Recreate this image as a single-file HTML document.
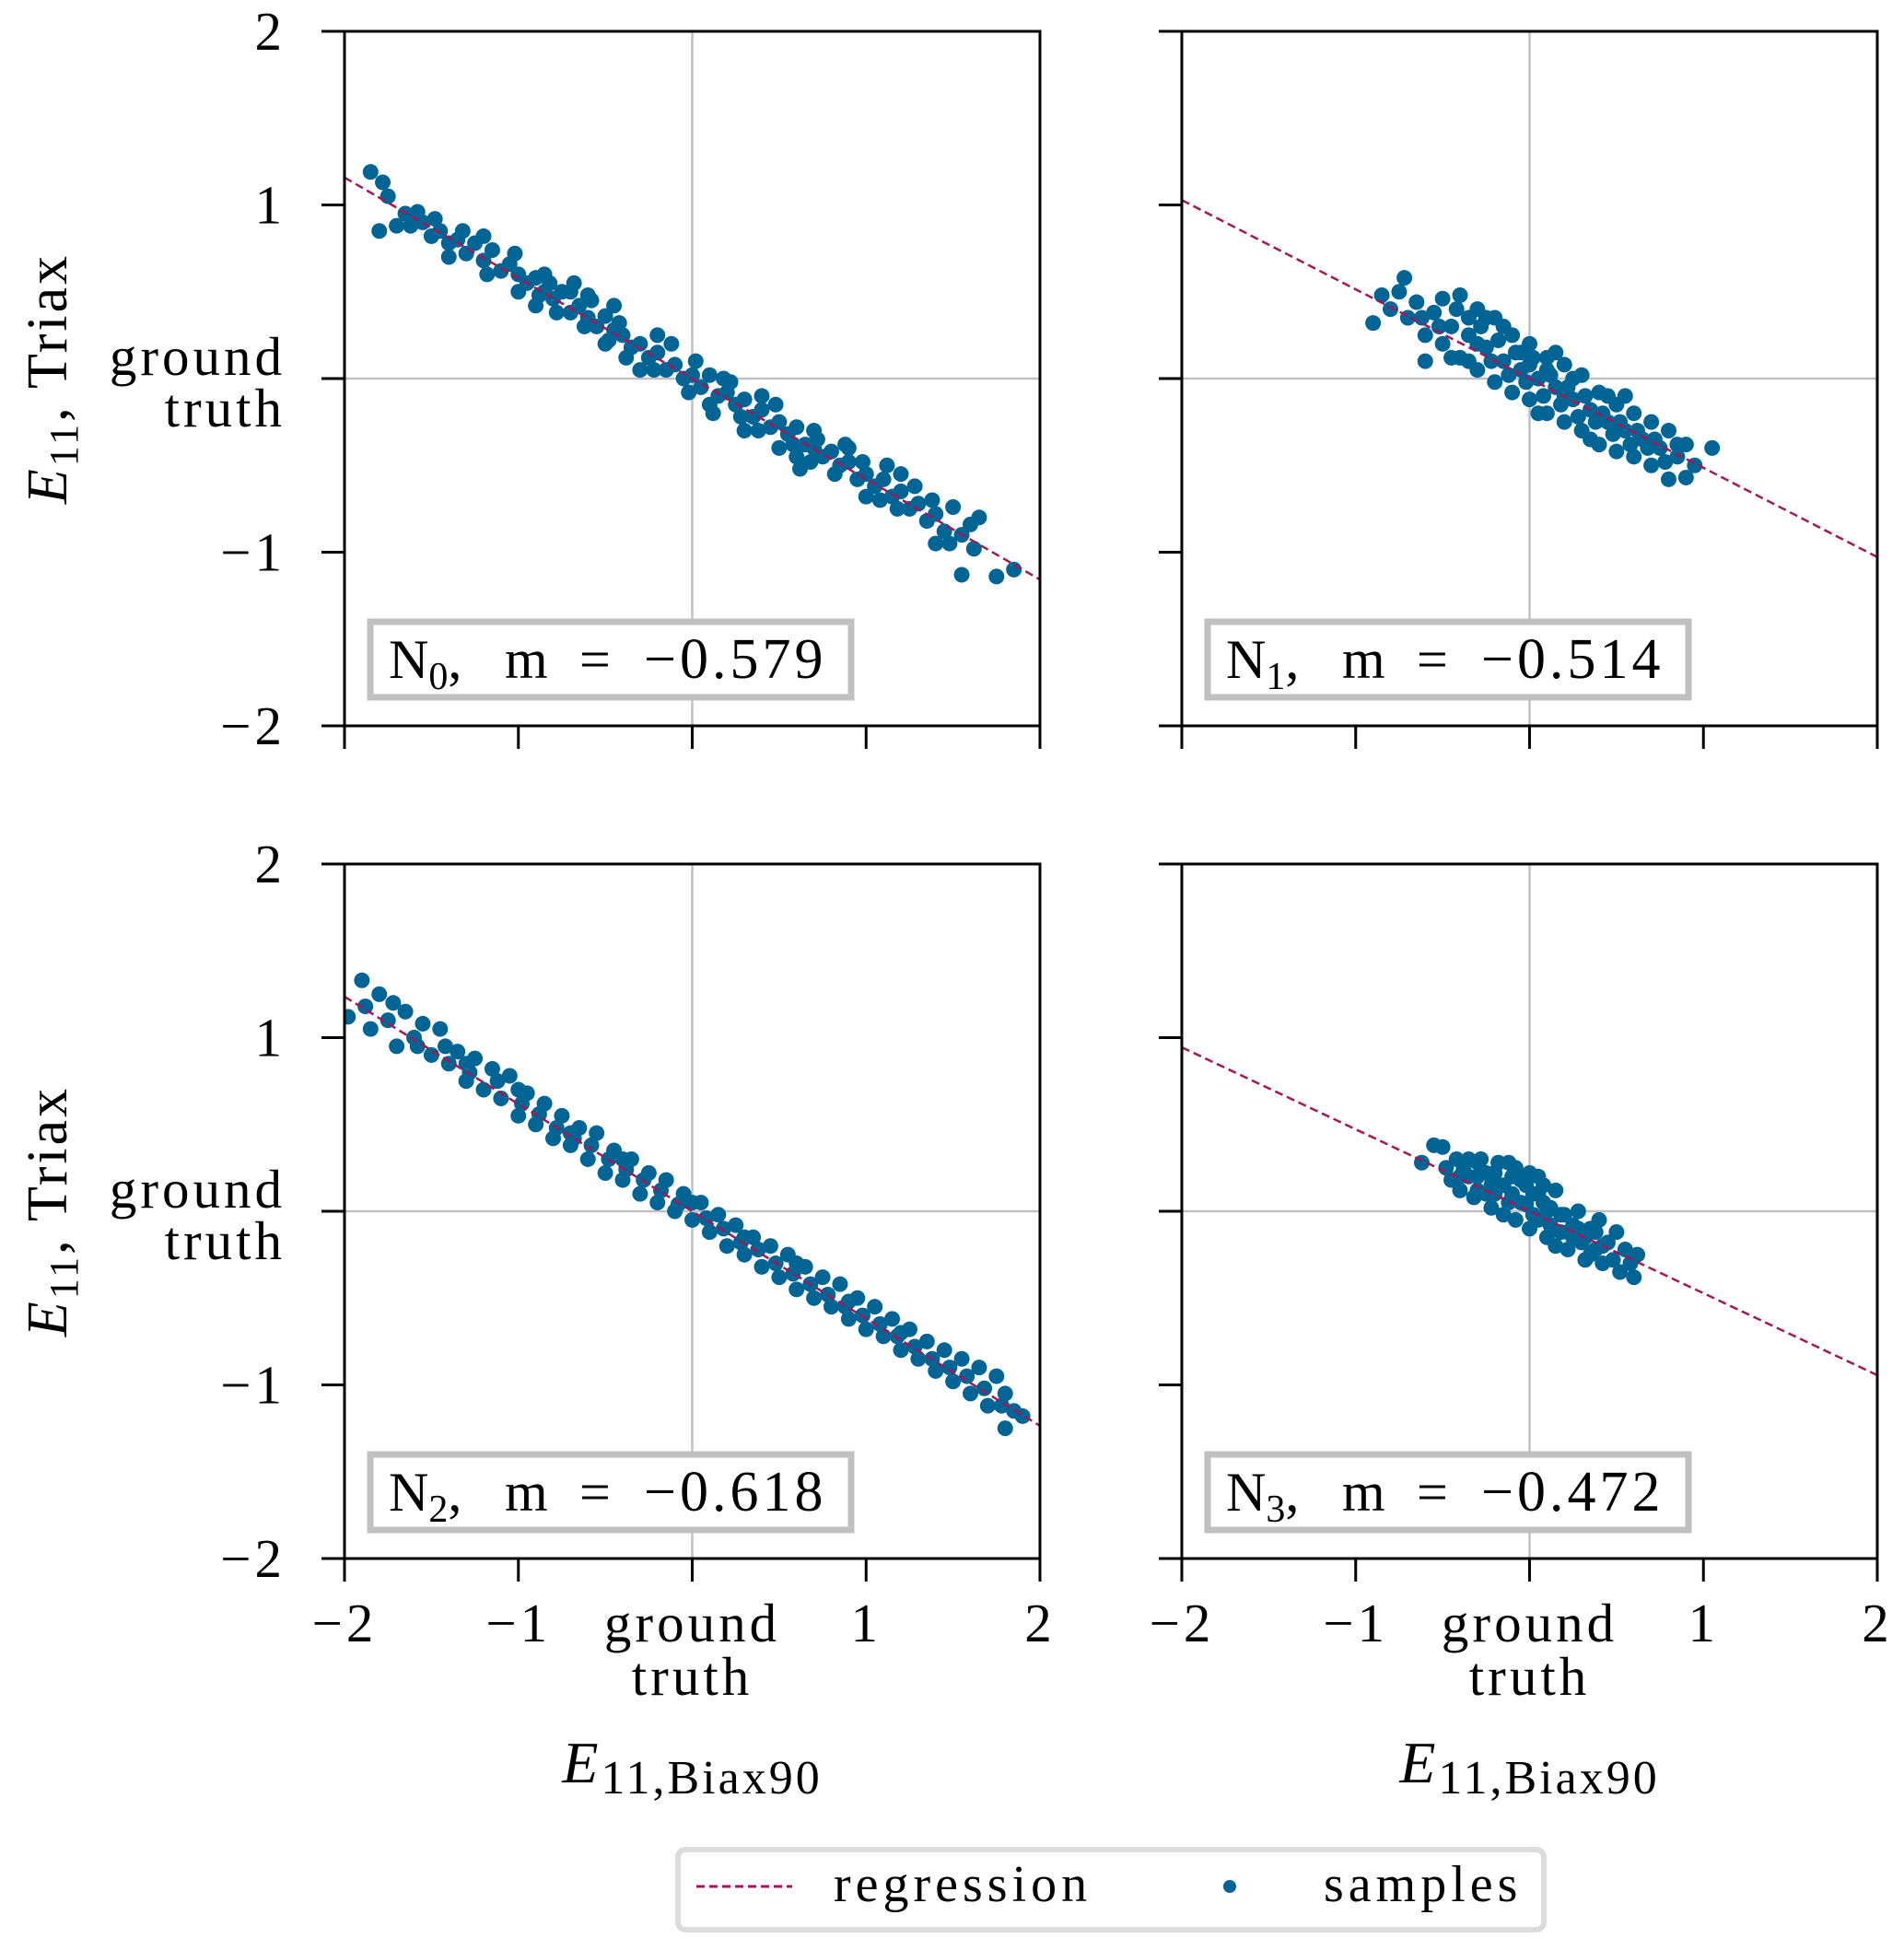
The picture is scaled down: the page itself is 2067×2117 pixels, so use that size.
<!DOCTYPE html>
<html><head><meta charset="utf-8"><style>
html,body{margin:0;padding:0;background:#fff}
svg{display:block}
text{font-family:"Liberation Serif","DejaVu Serif",serif;fill:#000}
</style></head><body>
<svg id="fig" width="2067" height="2117" viewBox="0 0 2067 2117" xmlns="http://www.w3.org/2000/svg"></svg>
<script>
const slopes = [-0.579, -0.514, -0.618, -0.472];
const panelLabels = ["0","1","2","3"];
const tickVals = [-2,-1,0,1,2];
const tickLabels = ["\u22122","\u22121","ground|truth","1","2"];
const p0 = [[-1.85,1.19],[-1.78,1.13],[-1.75,1.05],[-1.8,0.85],[-1.7,0.88],[-1.65,0.95],[-1.58,0.96],[-1.55,0.9],[-1.5,0.82],[-1.45,0.85],[-1.4,0.78],[-1.35,0.8],[-1.3,0.72],[-1.25,0.78],[-1.2,0.68],[-1.15,0.74],[-1.1,0.62],[-1.05,0.66],[-1.0,0.6],[-0.95,0.55],[-0.9,0.58],[-0.88,0.48],[-0.85,0.5],[-0.8,0.46],[-0.75,0.5],[-0.7,0.38],[-0.65,0.42],[-0.6,0.35],[-0.55,0.3],[-0.5,0.36],[-0.48,0.22],[-0.45,0.28],[-0.4,0.25],[-0.35,0.18],[-0.3,0.2],[-0.25,0.12],[-0.2,0.15],[-0.15,0.05],[-0.1,0.08],[-0.05,0.0],[0,0.02],[0.05,-0.05],[0.1,0.02],[0.15,-0.1],[0.2,-0.08],[0.25,-0.15],[0.3,-0.12],[0.35,-0.22],[0.4,-0.18],[0.45,-0.28],[0.5,-0.25],[0.55,-0.32],[0.6,-0.28],[0.65,-0.38],[0.7,-0.4],[0.75,-0.45],[0.8,-0.42],[0.85,-0.5],[0.9,-0.48],[0.95,-0.58],[1.0,-0.55],[1.05,-0.62],[1.1,-0.58],[1.15,-0.68],[1.2,-0.65],[1.25,-0.75],[1.3,-0.72],[1.35,-0.82],[1.4,-0.78],[1.45,-0.88],[1.5,-0.74],[1.55,-0.9],[1.6,-0.84],[1.65,-0.8],[1.55,-1.13],[1.75,-1.14],[1.85,-1.1],[-0.6,0.48],[0.4,-0.1],[-1.2,0.82],[0.9,-0.4],[-0.3,0.05],[0.3,-0.3],[1.2,-0.55],[-0.9,0.42],[0.6,-0.45],[-0.2,0.25],[0.1,-0.15],[1.4,-0.95],[-1.4,0.7],[-0.7,0.5],[-0.5,0.2],[0.7,-0.3],[0.5,-0.4],[-1.0,0.5],[1.0,-0.68],
[-1.62,0.88],[-1.48,0.92],[-1.32,0.85],[-1.18,0.6],[-1.02,0.72],[-0.82,0.55],[-0.78,0.38],[-0.62,0.3],[-0.58,0.45],[-0.42,0.32],[-0.38,0.12],[-0.22,0.05],[-0.12,0.2],[-0.02,-0.08],[0.02,0.1],[0.12,-0.2],[0.22,-0.02],[0.28,-0.22],[0.38,-0.3],[0.48,-0.15],[0.58,-0.38],[0.68,-0.48],[0.72,-0.35],[0.82,-0.55],[0.88,-0.38],[0.98,-0.48],[1.08,-0.7],[1.18,-0.75],[1.28,-0.62],[1.38,-0.7],[1.48,-0.95],[1.62,-0.98],[-0.85,0.6],[-0.68,0.55],[-0.45,0.42],[0.18,0.0],[0.62,-0.52],[1.12,-0.5]];
const p1 = [[-0.9,0.32],[-0.85,0.48],[-0.8,0.4],[-0.75,0.5],[-0.72,0.58],[-0.7,0.35],[-0.65,0.44],[-0.6,0.25],[-0.55,0.38],[-0.5,0.46],[-0.5,0.2],[-0.45,0.3],[-0.4,0.48],[-0.4,0.12],[-0.35,0.25],[-0.3,0.4],[-0.3,0.05],[-0.25,0.18],[-0.2,0.35],[-0.2,-0.02],[-0.15,0.1],[-0.1,0.25],[-0.1,-0.08],[-0.05,0.05],[0,0.2],[0,-0.12],[0.05,0.0],[0.1,0.12],[0.1,-0.2],[0.15,-0.05],[0.2,0.08],[0.2,-0.25],[0.25,-0.12],[0.3,0.02],[0.3,-0.3],[0.35,-0.18],[0.4,-0.08],[0.4,-0.38],[0.45,-0.25],[0.5,-0.15],[0.5,-0.42],[0.55,-0.3],[0.6,-0.2],[0.6,-0.45],[0.65,-0.35],[0.7,-0.25],[0.7,-0.5],[0.75,-0.4],[0.8,-0.3],[0.8,-0.58],[0.85,-0.45],[0.9,-0.38],[0.9,-0.57],[0.95,-0.5],[1.05,-0.4],[-0.6,0.1],[-0.3,0.2],[0.0,0.08],[0.2,-0.1],[-0.15,0.3],[0.35,-0.35],[0.15,0.15],[-0.45,0.12],[0.55,-0.1],[-0.25,0.35],[0.05,-0.2],[-0.05,0.15],[0.25,0.0],
[-0.62,0.35],[-0.52,0.3],[-0.42,0.4],[-0.35,0.1],[-0.28,0.3],[-0.22,0.1],[-0.18,0.22],[-0.12,0.02],[-0.08,0.15],[-0.02,-0.02],[0.02,0.12],[0.08,-0.1],[0.12,0.02],[0.18,-0.15],[0.22,-0.05],[0.28,-0.22],[0.32,-0.1],[0.38,-0.25],[0.42,-0.2],[0.48,-0.32],[0.52,-0.25],[0.58,-0.38],[0.62,-0.3],[0.68,-0.4],[0.72,-0.35],[0.78,-0.48],[0.85,-0.38],[-0.35,0.35],[0.1,0.05],[0.45,-0.1]];
const p2 = [[-1.98,1.12],[-1.9,1.33],[-1.85,1.05],[-1.8,1.25],[-1.75,1.1],[-1.7,0.95],[-1.65,1.15],[-1.6,1.0],[-1.55,1.08],[-1.5,0.9],[-1.45,1.05],[-1.4,0.85],[-1.35,0.92],[-1.3,0.75],[-1.25,0.88],[-1.2,0.7],[-1.15,0.82],[-1.1,0.65],[-1.05,0.78],[-1.0,0.55],[-0.95,0.68],[-0.9,0.5],[-0.85,0.62],[-0.8,0.42],[-0.75,0.55],[-0.7,0.38],[-0.65,0.48],[-0.6,0.3],[-0.55,0.45],[-0.5,0.22],[-0.45,0.35],[-0.4,0.18],[-0.35,0.3],[-0.3,0.1],[-0.25,0.22],[-0.2,0.05],[-0.15,0.18],[-0.1,0.0],[-0.05,0.1],[0,-0.05],[0.05,0.05],[0.1,-0.12],[0.15,-0.02],[0.2,-0.2],[0.25,-0.08],[0.3,-0.25],[0.35,-0.15],[0.4,-0.32],[0.45,-0.2],[0.5,-0.38],[0.55,-0.25],[0.6,-0.45],[0.65,-0.32],[0.7,-0.5],[0.75,-0.38],[0.8,-0.55],[0.85,-0.42],[0.9,-0.62],[0.95,-0.5],[1.0,-0.68],[1.05,-0.55],[1.1,-0.72],[1.15,-0.62],[1.2,-0.8],[1.25,-0.68],[1.3,-0.85],[1.35,-0.75],[1.4,-0.92],[1.45,-0.8],[1.5,-0.98],[1.55,-0.85],[1.6,-1.05],[1.65,-0.9],[1.7,-1.12],[1.75,-0.95],[1.8,-1.05],[1.8,-1.25],[1.85,-1.15],[1.9,-1.18],[-1.0,0.7],[0.6,-0.3],[-0.4,0.3],[1.2,-0.7],[-1.3,0.85],[0.0,0.05],[0.9,-0.52],[-0.7,0.45],[0.3,-0.15],
[-1.88,1.18],[-1.72,1.2],[-1.58,0.95],[-1.42,0.95],[-1.28,0.8],[-1.12,0.75],[-0.98,0.62],[-0.88,0.56],[-0.78,0.48],[-0.68,0.42],[-0.58,0.38],[-0.48,0.3],[-0.38,0.24],[-0.28,0.18],[-0.18,0.12],[-0.08,0.04],[0.08,-0.04],[0.18,-0.1],[0.28,-0.18],[0.38,-0.22],[0.48,-0.3],[0.58,-0.36],[0.68,-0.42],[0.78,-0.48],[0.88,-0.55],[0.98,-0.6],[1.08,-0.65],[1.18,-0.72],[1.28,-0.78],[1.38,-0.85],[1.48,-0.9],[1.58,-0.95],[1.68,-1.02],[1.78,-1.12]];
const p3 = [[-0.62,0.28],[-0.55,0.38],[-0.5,0.37],[-0.48,0.25],[-0.45,0.18],[-0.42,0.3],[-0.4,0.12],[-0.38,0.24],[-0.35,0.3],[-0.32,0.08],[-0.3,0.2],[-0.28,0.3],[-0.25,0.1],[-0.22,0.02],[-0.2,0.22],[-0.18,0.15],[-0.15,-0.02],[-0.12,0.28],[-0.1,0.1],[-0.08,-0.05],[-0.05,0.18],[-0.02,0.04],[0,-0.1],[0,0.22],[0.02,0.1],[0.05,-0.05],[0.08,0.15],[0.1,-0.15],[0.12,0.02],[0.15,0.12],[0.18,-0.12],[0.2,-0.02],[0.22,-0.22],[0.25,-0.08],[0.28,0.0],[0.3,-0.18],[0.32,-0.28],[0.35,-0.1],[0.38,-0.22],[0.4,-0.05],[0.42,-0.3],[0.45,-0.18],[0.48,-0.28],[0.5,-0.12],[0.52,-0.35],[0.55,-0.22],[0.58,-0.3],[0.6,-0.38],[0.62,-0.25],[-0.3,0.12],[0.1,0.0],[-0.15,0.15],[0.25,-0.15],[-0.05,0.05],[0.05,0.2],[-0.25,0.22],[-0.1,0.2],[0.15,-0.2],[0.35,-0.25],[-0.35,0.2],
[-0.4,0.2],[-0.3,0.28],[-0.2,0.1],[-0.12,0.05],[-0.02,0.15],[0.02,-0.02],[0.08,0.05],[0.12,-0.08],[0.18,-0.02],[0.22,-0.12],[0.28,-0.1],[0.32,-0.15],[0.38,-0.12],[0.42,-0.2],[-0.18,0.28],[-0.08,0.25],[0.05,0.1],[-0.22,0.15]];
const samples = [p0,p1,p2,p3];

const NS = "http://www.w3.org/2000/svg";
const svg = document.getElementById('fig');
function mk(tag, attrs, parent){const e=document.createElementNS(NS,tag);for(const k in attrs)e.setAttribute(k,attrs[k]);(parent||svg).appendChild(e);return e;}
const L = [374, 1283], T = [34, 938], W = 755, H = 754;
for (let i=0;i<4;i++){
  const col=i%2,row=Math.floor(i/2);
  const x0=L[col],y0=T[row];
  const sx=v=>x0+(v+2)/4*W, sy=v=>y0+(2-v)/4*H;
  const g=mk('g',{});
  
  
  const clip=mk('clipPath',{id:'c'+i},g);mk('rect',{x:x0,y:y0,width:W,height:H},clip);
  const gl1=mk('line',{x1:sx(0),x2:sx(0),y1:y0,y2:y0+H,stroke:'#c0c0c0','stroke-width':2.5},g);
  
  
  const gl2=mk('line',{x1:x0,x2:x0+W,y1:sy(0),y2:sy(0),stroke:'#c0c0c0','stroke-width':2.5},g);
  
  
  const pg=mk('g',{'clip-path':'url(#c'+i+')'},g);
  samples[i].forEach(p=>{
    const c=mk('circle',{cx:sx(p[0]),cy:sy(p[1]),r:8.5,fill:'#006494'},pg);
    
    
  });
  const rl=mk('line',{x1:sx(-2),y1:sy(-2*slopes[i]),x2:sx(2),y2:sy(2*slopes[i]),stroke:'#a2185a','stroke-width':2.5,'stroke-dasharray':'9,5'},pg);
  
  
  const fr=mk('rect',{x:x0,y:y0,width:W,height:H,fill:'none',stroke:'#000','stroke-width':3},g);
  
  
  tickVals.forEach((v,k)=>{
    mk('line',{x1:x0-25,x2:x0,y1:sy(v),y2:sy(v),stroke:'#000','stroke-width':3},g);
    mk('line',{x1:sx(v),x2:sx(v),y1:y0+H,y2:y0+H+25,stroke:'#000','stroke-width':3},g);
    if(col===0){
      const parts=tickLabels[k].split('|');
      parts.forEach((s,j)=>{
        const t=mk('text',{x:x0-64,y:sy(v)+(parts.length>1?(j===0?-4:52):20),'text-anchor':'end','font-size':59,'letter-spacing':4},g);
        t.textContent=s;
        
        
      });
    }
    if(row===1){
      const parts=tickLabels[k].split('|');
      parts.forEach((s,j)=>{
        const t=mk('text',{x:sx(v),y:y0+H+(j===0?90:148),'text-anchor':'middle','font-size':59,'letter-spacing':4},g);
        t.textContent=s;
        
        
      });
    }
  });
  const bx=x0+28,by=y0+641;
  const ab=mk('rect',{x:bx,y:by,width:522,height:82,fill:'#fff',stroke:'#c0c0c0','stroke-width':7},g);
  
  
  const ag=mk('g',{'font-size':60},g);
  
  
  const a1=mk('text',{x:bx+20,y:by+61,'font-size':60},ag);
  a1.innerHTML='N<tspan font-size="42" dy="12">'+panelLabels[i]+'</tspan><tspan dy="-12">,</tspan>';
  const a2=mk('text',{x:bx+146,y:by+61,'font-size':60},ag);a2.textContent='m';
  const a3=mk('text',{x:bx+227,y:by+61,'font-size':60},ag);a3.textContent='=';
  const a4=mk('text',{x:bx+297,y:by+61,'font-size':62,'letter-spacing':4},ag);
  a4.textContent='\u22120.'+String(Math.abs(slopes[i]).toFixed(3)).slice(2);
  if(col===0){
    const yl=mk('text',{transform:'translate(72,'+(y0+H/2)+') rotate(-90)','text-anchor':'middle','font-size':62,'letter-spacing':3},g);
    yl.innerHTML='<tspan font-style="italic">E</tspan><tspan font-size="44" dy="12">11</tspan><tspan dy="-12">, Triax</tspan>';
    
    
  }
  if(row===1){
    const xl=mk('text',{x:x0+W/2,y:1935,'text-anchor':'middle','font-size':64,'letter-spacing':3},g);
    xl.innerHTML='<tspan font-style="italic">E</tspan><tspan font-size="52" dy="12">11,Biax90</tspan>';
    
    
  }
}
const lg=mk('g',{});


mk('rect',{x:736,y:2008,width:940,height:87,rx:8,fill:'#fff',stroke:'#dcdcdc','stroke-width':6},lg);
mk('line',{x1:756,x2:860,y1:2048,y2:2048,stroke:'#a2185a','stroke-width':3,'stroke-dasharray':'9,5'},lg);
const t1=mk('text',{x:905,y:2064,'font-size':56,'letter-spacing':5},lg);t1.textContent='regression';


mk('circle',{cx:1335,cy:2048,r:7,fill:'#006494'},lg);
const t2=mk('text',{x:1437,y:2064,'font-size':56,'letter-spacing':5},lg);t2.textContent='samples';


</script>
</body></html>
